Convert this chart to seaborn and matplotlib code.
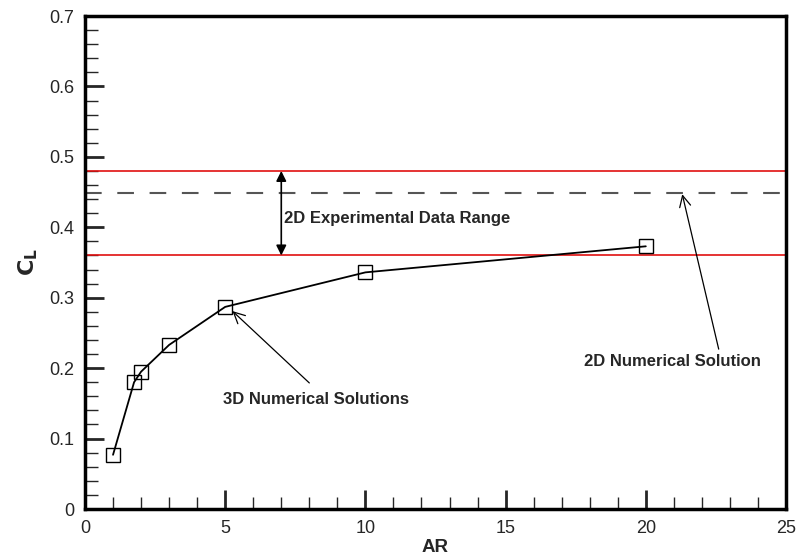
import matplotlib
matplotlib.use("Agg")
import matplotlib.pyplot as plt
import seaborn as sns
import pandas as pd
from matplotlib.ticker import MultipleLocator

# Data
ar = [1, 1.75, 2, 3, 5, 10, 20]
cl = [0.077, 0.180, 0.195, 0.233, 0.287, 0.336, 0.373]
exp_range = [0.36, 0.48]
cl_2d = 0.448

sns.set_style("ticks")
plt.rcParams['font.family'] = ['Liberation Sans', 'DejaVu Sans']

df = pd.DataFrame({"AR": ar, "CL": cl})

fig = plt.figure(figsize=(8, 5.58), dpi=100)
ax = fig.add_axes([0.10625, 0.0878, 0.87625, 0.8835])

sns.lineplot(data=df, x="AR", y="CL", ax=ax, color="black", linewidth=1.3,
             marker="s", markersize=9.5, markerfacecolor="none",
             markeredgecolor="black", markeredgewidth=1.0)

for v in exp_range:
    ax.axhline(v, color="#e01010", linewidth=1.2, zorder=1)
ax.axhline(cl_2d, color="#555555", linewidth=1.5, dashes=(8, 7.5), zorder=1)

# Double arrow for experimental range
ax.annotate("", xy=(7, exp_range[1]), xytext=(7, exp_range[0]),
            arrowprops=dict(arrowstyle="<|-|>", color="black", lw=1.2,
                            mutation_scale=15, shrinkA=0, shrinkB=0))
ax.text(7.1, 0.413, "2D Experimental Data Range", fontsize=12,
        fontweight="bold", ha="left", va="center")

# 3D annotation
ax.annotate("", xy=(5.26, 0.281), xytext=(8.0, 0.179),
            arrowprops=dict(arrowstyle="->", color="black", lw=0.9,
                            mutation_scale=20, shrinkA=0, shrinkB=0))
ax.text(8.25, 0.155, "3D Numerical Solutions", fontsize=12,
        fontweight="bold", ha="center", va="center")

# 2D annotation
ax.annotate("", xy=(21.3, 0.447), xytext=(22.6, 0.227),
            arrowprops=dict(arrowstyle="->", color="black", lw=0.9,
                            mutation_scale=20, shrinkA=0, shrinkB=0))
ax.text(20.95, 0.21, "2D Numerical Solution", fontsize=12,
        fontweight="bold", ha="center", va="center")

ax.set_xlim(0, 25)
ax.set_ylim(0, 0.7)
ax.xaxis.set_major_locator(MultipleLocator(5))
ax.xaxis.set_minor_locator(MultipleLocator(1))
ax.yaxis.set_major_locator(MultipleLocator(0.1))
ax.yaxis.set_minor_locator(MultipleLocator(0.02))
ax.set_xticks([0, 5, 10, 15, 20, 25])
ax.set_xticklabels(["0", "5", "10", "15", "20", "25"])
ax.set_yticks([0, 0.1, 0.2, 0.3, 0.4, 0.5, 0.6, 0.7])
ax.set_yticklabels(["0", "0.1", "0.2", "0.3", "0.4", "0.5", "0.6", "0.7"])

ax.tick_params(which="major", direction="in", length=14, width=2,
               labelsize=13, pad=8, top=False, right=False)
ax.tick_params(which="minor", direction="in", length=9, width=1,
               top=False, right=False)
for s in ax.spines.values():
    s.set_linewidth(2.5)
    s.set_color("black")

ax.set_xlabel("AR", fontsize=13.5, fontweight="bold", labelpad=1)
ax.set_ylabel(r"$\mathbf{C_L}$", fontsize=16, labelpad=6)

fig.savefig("out.png", dpi=100)
